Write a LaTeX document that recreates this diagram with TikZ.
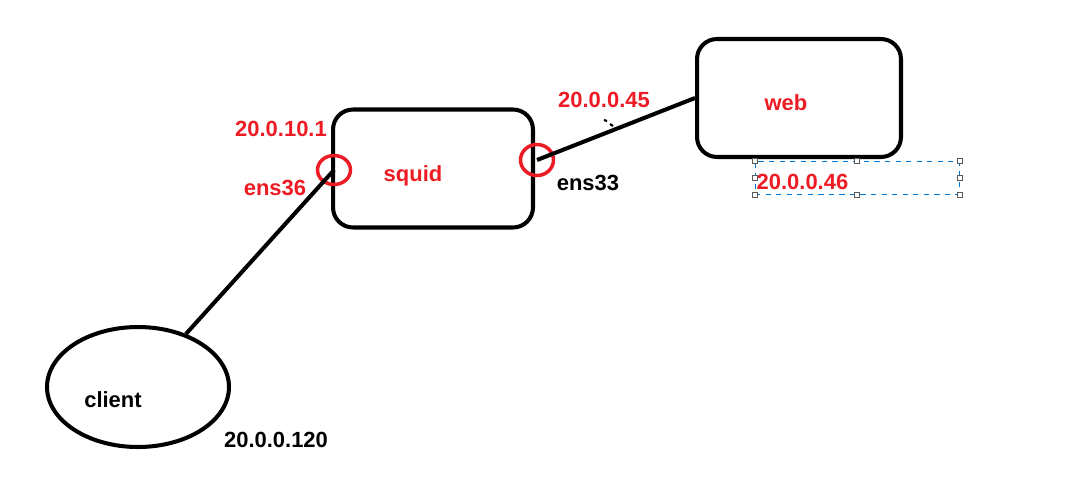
\documentclass[tikz,border=0pt]{standalone}
\usepackage{fontspec}
\setmainfont{Liberation Sans}
\usetikzlibrary{shapes.geometric, positioning}
\definecolor{pred}   {RGB}{237, 28, 36}
\definecolor{selblue}{RGB}{  0,120,215}
\definecolor{hgray}  {RGB}{ 90, 90, 90}
\tikzset{
  % Host box (rounded)
  HB/.style={rectangle,rounded corners=0.4cm,draw=black,line width=2.3pt,
             minimum width=#1,minimum height=2.36cm},
  HB/.default=4.0cm,
  % Client ellipse
  CE/.style={ellipse,draw=black,line width=2.3pt,
             minimum width=3.64cm,minimum height=2.4cm},
  % Red interface ring
  PR/.style={ellipse,draw=pred,line width=2pt,inner sep=0pt,
             minimum width=0.66cm,minimum height=#1},
  PR/.default=0.58cm,
  % Labels
  RL/.style={text=pred,font=\fontsize{12.5}{14}\selectfont\bfseries,inner sep=1pt},
  KL/.style={text=black,font=\fontsize{12.5}{14}\selectfont\bfseries,inner sep=1pt},
  % Selection frame and its handles
  SF/.style={rectangle,draw=selblue,dashed,line width=0.5pt,
             minimum width=4.08cm,minimum height=0.66cm,inner sep=0pt},
  HD/.style={rectangle,draw=hgray,fill=white,line width=0.4pt,
             minimum size=0.1cm,inner sep=0pt},
  % Link line
  Lnk/.style={line width=2.3pt,color=black},
}
\begin{document}
\begin{tikzpicture}[x=0.02cm,y=-0.02cm]
  \useasboundingbox (0,0) rectangle (1076,491);
  % hosts
  \node[HB] at (433,168.5) (squid) {};
  \node[HB=4.08cm] at (799,98) (web) {};
  \node[CE] at (138,387) (client) {};
  % interface rings
  \node[PR] at (334,170) (p36) {};
  \node[PR=0.62cm] at (537,160) (p33) {};
  % links
  \draw[Lnk] (client) -- (p36.center);
  \draw[Lnk] (p33.center) -- (web.west);
  \draw[line width=1.2pt] (604,120) -- (607,121) (610,124) -- (613,126);
  % labels
  \node[RL] at (413,176) (lsquid) {squid};
  \node[RL] at (786,103) (lweb) {web};
  \node[KL] at (113,400) (lclient) {client};
  \node[RL] at (281,129) (ip101) {20.0.10.1};
  \node[RL] at (275,188) (ens36) {ens36};
  \node[KL] at (588,183) (ens33) {ens33};
  \node[RL] at (604,100) (ip45) {20.0.0.45};
  \node[KL] at (276,440) (ip120) {20.0.0.120};
  % selected text box
  \node[SF] at (857,177.5) (sel) {};
  \node[RL,anchor=west,yshift=-0.08cm] at (sel.west) (ip46) {20.0.0.46};
  \foreach \a in {north west,north,north east,east,
                  south east,south,south west,west}
    \node[HD] at (sel.\a) {};
\end{tikzpicture}
\end{document}
